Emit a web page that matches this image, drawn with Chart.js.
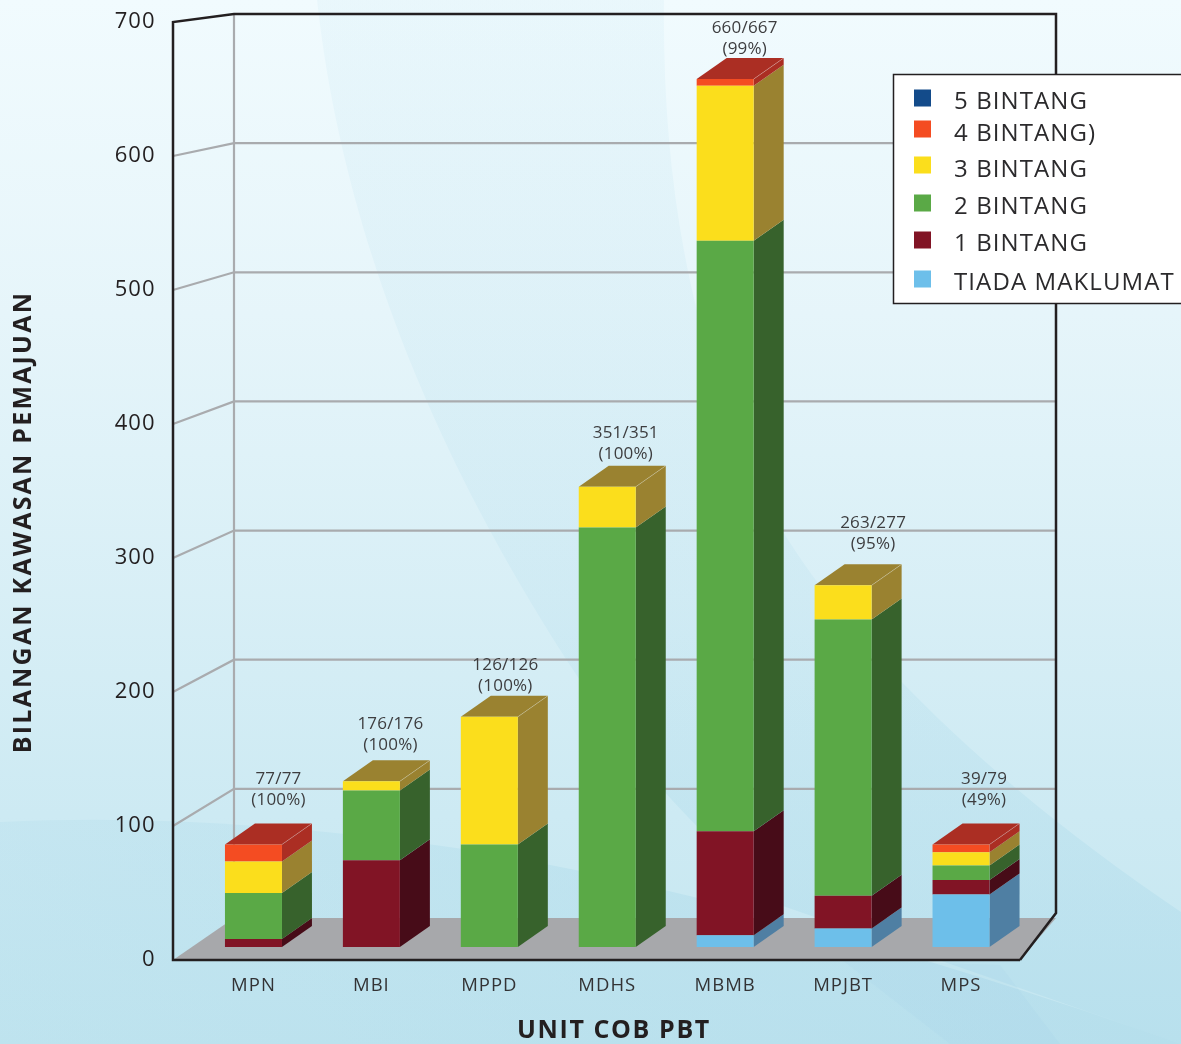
<!DOCTYPE html>
<html>
<head>
<meta charset="utf-8">
<title>Bilangan Kawasan Pemajuan</title>
<script src="https://cdn.jsdelivr.net/npm/chart.js@4"></script>
<style>
html,body{margin:0;padding:0;width:1181px;height:1044px;overflow:hidden;background:#d6eef5}
#bg{position:absolute;left:0;top:0;width:1181px;height:1044px}
#c{position:absolute;left:0;top:0;width:1181px;height:1044px}
</style>
</head>
<body>
<svg id="bg" viewBox="0 0 1181 1044" xmlns="http://www.w3.org/2000/svg">
  <defs>
    <linearGradient id="g" x1="0" y1="0" x2="0" y2="1">
      <stop offset="0" stop-color="#f1fbfe"/>
      <stop offset="0.3" stop-color="#e6f5fa"/>
      <stop offset="0.78" stop-color="#cdeaf3"/>
      <stop offset="1" stop-color="#c4e6f0"/>
    </linearGradient>
    <linearGradient id="band" x1="0" y1="0" x2="0" y2="1">
      <stop offset="0" stop-color="#a4d6e8" stop-opacity="0.10"/>
      <stop offset="0.6" stop-color="#a4d6e8" stop-opacity="0.16"/>
      <stop offset="0.85" stop-color="#a4d6e8" stop-opacity="0.30"/>
      <stop offset="1" stop-color="#a4d6e8" stop-opacity="0.38"/>
    </linearGradient>
    <linearGradient id="low" x1="0" y1="0" x2="1" y2="0">
      <stop offset="0" stop-color="#a6d7e8" stop-opacity="0.20"/>
      <stop offset="1" stop-color="#9fd3e6" stop-opacity="0.38"/>
    </linearGradient>
  </defs>
  <rect width="1181" height="1044" fill="url(#g)"/>
  <path d="M317,0 L664,0 C662,180 690,350 770,510 C850,650 1000,790 1181,912 L1181,1044 L780,905 C700,830 660,795 600,710 C490,550 350,300 317,0Z" fill="url(#band)"/>
  <path d="M0,822 C150,815 300,825 470,850 C650,880 900,945 1181,1044 L0,1044Z" fill="url(#low)"/>
  <path d="M842,960 L950,1044 L1060,1044 L1000,965Z" fill="#9bd0e4" opacity="0.12"/>
</svg>
<canvas id="c" width="1181" height="1044"></canvas>
<script>
const categories = ['MPN','MBI','MPPD','MDHS','MBMB','MPJBT','MPS'];
const tiadaMaklumat = [0,0,0,0,9,14,40];
const bintang1 = [6,66,0,0,79,25,11];
const bintang2 = [35,53,78,319,449,210,11];
const bintang3 = [24,7,97,31,118,26,10];
const bintang4 = [13,0,0,0,5,0,6];
const bintang5 = [0,0,0,0,0,0,0];
const achievedLabels = ['77/77','176/176','126/126','351/351','660/667','263/277','39/79'];
const percentLabels = ['(100%)','(100%)','(100%)','(100%)','(99%)','(95%)','(49%)'];
const seriesNames = ['TIADA MAKLUMAT','1 BINTANG','2 BINTANG','3 BINTANG','4 BINTANG)','5 BINTANG'];
const seriesValues = [tiadaMaklumat,bintang1,bintang2,bintang3,bintang4,bintang5];
const frontColors = ['#6dbfea','#811425','#5aa946','#fbde1c','#f44c22','#134b8a'];
const sideColors = ['#4f7fa3','#470c18','#37622c','#9a8230','#ab2e23','#0c2f57'];
const yTicks = [0,100,200,300,400,500,600,700];
const xTitle = 'UNIT COB PBT';
const yTitle = 'BILANGAN KAWASAN PEMAJUAN';

const FONT = '"Open Sans"';
const DEPTH_X = 30, DEPTH_Y = 21;
const WALL_DX = 61, FRAME_LEFT_OFF = 21.5;
const BACK_TOP = 14, BACK_BOTTOM = 918;
const INK = '#231f20', GRID = '#a9abae';
const NOTE_NUDGE_X = [4,-2,-5,-2.5,-1.5,9,2];
const NOTE_NUDGE_Y = [-12,-4,1.5,-1,2,-9.5,-12.5];

const scene = {
  id:'scene',
  beforeDraw(chart){ chart.ctx.letterSpacing = '1px'; },
  beforeDatasetsDraw(chart){
    const {ctx, chartArea:a, scales:{yFront}} = chart;
    const fl = a.left - FRAME_LEFT_OFF, fr = a.right, fb = a.bottom, ft = a.top;
    const bl = fl + WALL_DX, br = fr + 36;
    const backY = v => BACK_BOTTOM + (yFront.getPixelForValue(v) - fb) * (BACK_BOTTOM - BACK_TOP) / (fb - ft);
    ctx.save();
    ctx.fillStyle = '#a7a8ab';
    ctx.beginPath(); ctx.moveTo(fl,fb); ctx.lineTo(fr,fb); ctx.lineTo(br,BACK_BOTTOM); ctx.lineTo(bl,BACK_BOTTOM); ctx.closePath(); ctx.fill();
    ctx.strokeStyle = GRID; ctx.lineWidth = 2.2;
    yTicks.slice(1,-1).forEach(v=>{
      ctx.beginPath(); ctx.moveTo(fl,yFront.getPixelForValue(v)); ctx.lineTo(bl,backY(v)); ctx.lineTo(br,backY(v)); ctx.stroke();
    });
    ctx.beginPath(); ctx.moveTo(bl,BACK_TOP); ctx.lineTo(bl,BACK_BOTTOM); ctx.stroke();
    ctx.strokeStyle = INK; ctx.lineWidth = 2.5; ctx.lineJoin = 'miter';
    ctx.beginPath(); ctx.moveTo(fr,fb); ctx.lineTo(fl,fb); ctx.lineTo(fl,ft); ctx.lineTo(bl,BACK_TOP); ctx.lineTo(br,BACK_TOP); ctx.lineTo(br,BACK_BOTTOM-5); ctx.lineTo(fr,fb); ctx.stroke();
    chart.data.datasets.forEach((ds,i)=>{
      chart.getDatasetMeta(i).data.forEach((el,j)=>{
        if(!ds.data[j]) return;
        const r = el.x + el.width/2;
        ctx.fillStyle = sideColors[i];
        ctx.beginPath(); ctx.moveTo(r,el.y); ctx.lineTo(r+DEPTH_X,el.y-DEPTH_Y); ctx.lineTo(r+DEPTH_X,el.base-DEPTH_Y); ctx.lineTo(r,el.base); ctx.closePath(); ctx.fill();
      });
    });
    categories.forEach((_,j)=>{
      let top=-1; seriesValues.forEach((s,i)=>{ if(s[j]>0) top=i; });
      const el = chart.getDatasetMeta(top).data[j];
      const l = el.x - el.width/2, r = el.x + el.width/2;
      ctx.fillStyle = sideColors[top];
      ctx.beginPath(); ctx.moveTo(l,el.y); ctx.lineTo(r,el.y); ctx.lineTo(r+DEPTH_X,el.y-DEPTH_Y); ctx.lineTo(l+DEPTH_X,el.y-DEPTH_Y); ctx.closePath(); ctx.fill();
      ctx.strokeStyle='rgba(255,255,255,0.25)'; ctx.lineWidth=1;
      ctx.beginPath(); ctx.moveTo(r,el.y); ctx.lineTo(r+DEPTH_X,el.y-DEPTH_Y); ctx.stroke();
    });
    ctx.restore();
  },
  afterDatasetsDraw(chart){
    const {ctx} = chart;
    ctx.save();
    ctx.fillStyle='#3d3d3f'; ctx.textAlign='center'; ctx.textBaseline='middle';
    ctx.font='17px '+FONT; ctx.letterSpacing='0.2px';
    categories.forEach((_,j)=>{
      let top=-1; seriesValues.forEach((s,i)=>{ if(s[j]>0) top=i; });
      const el = chart.getDatasetMeta(top).data[j];
      const cx = el.x + 21 + NOTE_NUDGE_X[j], ty = el.y - DEPTH_Y + NOTE_NUDGE_Y[j];
      ctx.fillText(achievedLabels[j], cx, ty-32);
      ctx.fillText(percentLabels[j], cx, ty-11);
    });
    ctx.fillStyle=INK; ctx.font='bold 25px '+FONT; ctx.letterSpacing='1.6px';
    ctx.fillText(xTitle, 614, 1031);
    ctx.letterSpacing='2.2px';
    ctx.save(); ctx.translate(24,522); ctx.rotate(-Math.PI/2); ctx.fillText(yTitle,0,0); ctx.restore();
    const rows = [{i:5,y:98,t:102},{i:4,y:129,t:134},{i:3,y:165,t:170},{i:2,y:203,t:207},{i:1,y:240,t:244},{i:0,y:279,t:283}];
    ctx.fillStyle='#ffffff'; ctx.strokeStyle=INK; ctx.lineWidth=1.5;
    ctx.fillRect(893.5,74.5,290,229); ctx.strokeRect(893.5,74.5,290,229);
    ctx.textAlign='left'; ctx.font='24px '+FONT; ctx.letterSpacing='1.1px';
    rows.forEach(r=>{
      ctx.fillStyle=chart.data.datasets[r.i].backgroundColor;
      ctx.fillRect(914,r.y-8.5,17,17);
      ctx.fillStyle='#2b2a2c';
      ctx.fillText(seriesNames[r.i], 954, r.t);
    });
    ctx.restore();
  }
};

new Chart(document.getElementById('c'),{
  type:'bar',
  data:{
    labels:categories,
    datasets:seriesNames.map((n,i)=>({
      label:n,data:seriesValues[i],backgroundColor:frontColors[i],
      borderWidth:0,barPercentage:0.4834,categoryPercentage:1,yAxisID:'y',stack:'all'
    }))
  },
  options:{
    responsive:false,animation:false,devicePixelRatio:1,
    layout:{padding:{top:22,right:161,left:0,bottom:0}},
    plugins:{legend:{display:false},tooltip:{enabled:false},title:{display:false}},
    scales:{
      x:{stacked:true,grid:{display:false},border:{display:false},
         ticks:{color:'#333335',font:{family:FONT,size:18.5},padding:7,maxRotation:0},
         afterFit(s){s.height=84;s.paddingLeft=0;s.paddingRight=0;}},
      y:{stacked:true,display:false,min:-9.9,max:703.4},
      yFront:{position:'left',min:0,max:700,grid:{display:false,drawTicks:false},border:{display:false},
         afterBuildTicks(s){s.ticks=yTicks.map(v=>({value:v}));},
         ticks:{color:INK,font:{family:FONT,size:22},padding:39},
         afterFit(s){s.width=194.5;s.paddingTop=0;s.paddingBottom=0;}}
    }
  },
  plugins:[scene]
});
</script>
</body>
</html>
